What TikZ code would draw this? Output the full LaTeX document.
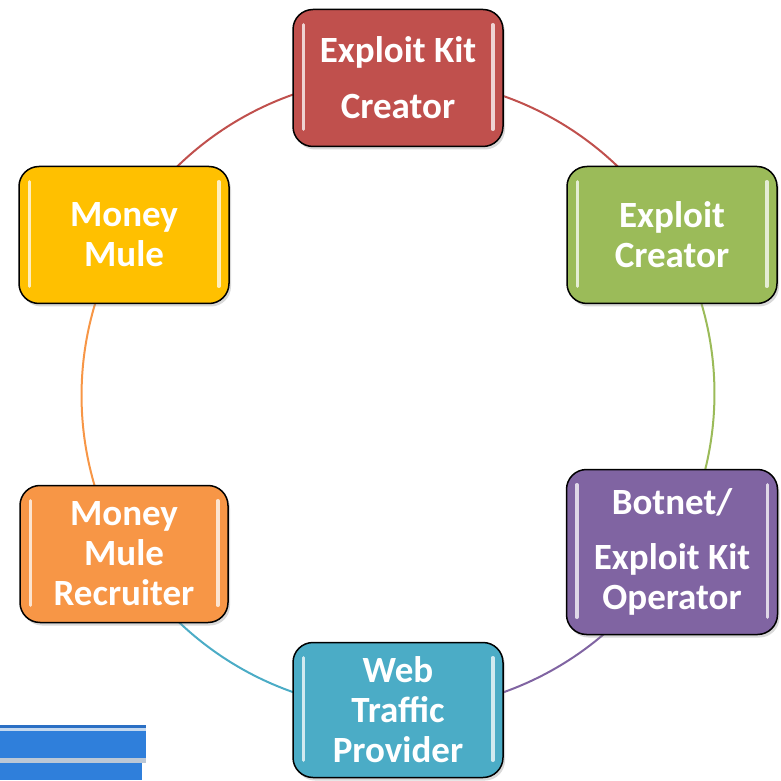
\documentclass[tikz,border=0pt]{standalone}
\usepackage{fontspec}
\setmainfont{Carlito}
\usetikzlibrary{shadows}
\definecolor{cRed}{HTML}{C0504D}
\definecolor{cGreen}{HTML}{9BBB59}
\definecolor{cPurple}{HTML}{8064A2}
\definecolor{cBlue}{HTML}{4BACC6}
\definecolor{cOrange}{HTML}{F79646}
\definecolor{cYellow}{HTML}{FFC000}
\definecolor{slideBlue}{HTML}{2F7FDB}
\definecolor{slideDark}{HTML}{2A6FC4}
\definecolor{slideLight}{HTML}{C4D9F0}
\definecolor{slideGrey}{HTML}{BCC8D6}
\newcommand\boxfont{\fontsize{37}{40}\selectfont\bfseries}
\pgfdeclarelayer{background}
\pgfsetlayers{background,main}
\tikzset{
  box/.style={rounded corners=20pt, draw=black, line width=1.5pt,
    minimum width=210pt, minimum height=137pt, text=white, font=\boxfont,
    align=center, inner sep=0pt,
    drop shadow={opacity=0.3, shadow xshift=2pt, shadow yshift=-3pt}},
  cyc/.style={line width=2pt},
  hl/.style={white, line width=3.5pt, line cap=round, opacity=0.75},
  slide/.style={draw=none}
}
\begin{document}
\begin{tikzpicture}[x=1pt,y=1pt]
\useasboundingbox (0,0) rectangle (781,780);
% slide fragment bottom-left
\fill[slideDark] (0,52) rectangle (146,55);
\fill[slideLight] (0,49) rectangle (146,52);
\fill[slideBlue] (0,22) rectangle (146,49);
\fill[slideGrey] (0,17) rectangle (146,22);
\fill[slideBlue] (0,0) rectangle (142,17);
% boxes
\node[box, fill=cRed]    (ekc) at (398,702) {Exploit Kit\\[16pt]Creator};
\node[box, fill=cGreen]  (ec)  at (672,545) {Exploit\\Creator};
\node[box, fill=cPurple, minimum width=211pt, minimum height=165pt] (bot) at (672,228) {Botnet/\\[15pt]Exploit Kit\\Operator};
\node[box, fill=cBlue, minimum height=135pt]   (web) at (398,70)  {Web\\Traffic\\Provider};
\node[box, fill=cOrange, minimum width=208pt] (rec) at (124,226) {Money\\Mule\\Recruiter};
\node[box, fill=cYellow] (mm)  at (124,545) {Money\\Mule};
% glossy highlights
\foreach \n in {ekc,ec,bot,web,rec,mm}{
  \draw[hl] ([xshift=11pt,yshift=-16pt]\n.north west) -- ([xshift=11pt,yshift=18pt]\n.south west);
  \draw[hl] ([xshift=-11pt,yshift=-16pt]\n.north east) -- ([xshift=-11pt,yshift=18pt]\n.south east);
}
% cycle arcs
\begin{pgfonlayer}{background}
\draw[cyc, cRed]    (ekc.center) arc[start angle=90,  end angle=30,   radius=317pt];
\draw[cyc, cGreen]  (ec.center)  arc[start angle=30,  end angle=-30,  radius=317pt];
\draw[cyc, cPurple] (bot.center) arc[start angle=-30, end angle=-90,  radius=317pt];
\draw[cyc, cBlue]   (web.center) arc[start angle=-90, end angle=-150, radius=317pt];
\draw[cyc, cOrange] (rec.center) arc[start angle=210, end angle=150,  radius=317pt];
\draw[cyc, cRed]    (mm.center)  arc[start angle=150, end angle=90,   radius=317pt];
\end{pgfonlayer}
\end{tikzpicture}
\end{document}
